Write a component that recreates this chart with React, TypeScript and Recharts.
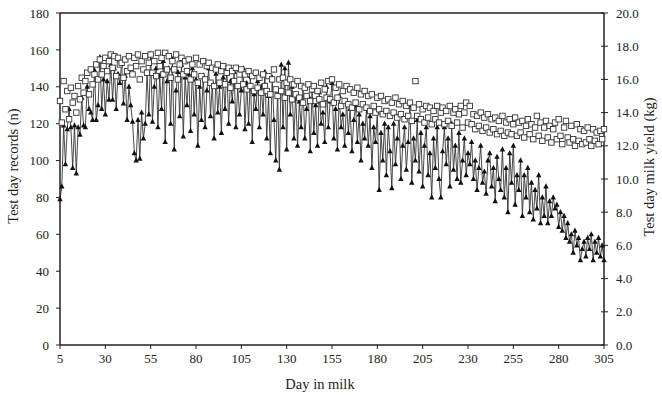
import { ComposedChart, Line, XAxis, YAxis, ReferenceLine } from 'recharts'

const FONT = '"Liberation Serif", "Times New Roman", serif'
const INK = '#222'

// day in milk, 5..305
const DAYS = Array.from({ length: 301 }, (_, i) => 5 + i)
const X_TICKS = [5, 30, 55, 80, 105, 130, 155, 180, 205, 230, 255, 280, 305]
const LEFT_TICKS = [0, 20, 40, 60, 80, 100, 120, 140, 160, 180]
const RIGHT_TICKS = [0, 2, 4, 6, 8, 10, 12, 14, 16, 18, 20]

// test day records (n), left axis
const RECORDS = [
  79, 86, 119, 98, 117, 128, 118, 96, 119, 93,
  118, 114, 134, 119, 118, 140, 128, 126, 122, 149,
  122, 130, 156, 128, 144, 125, 143, 133, 152, 133,
  150, 128, 147, 142, 153, 131, 146, 122, 140, 130,
  121, 104, 100, 122, 101, 126, 112, 120, 148, 125,
  158, 121, 140, 150, 118, 146, 128, 154, 110, 143,
  150, 120, 155, 106, 138, 148, 124, 152, 113, 145,
  130, 147, 116, 150, 125, 144, 108, 140, 122, 146,
  118, 138, 150, 124, 142, 112, 147, 126, 140, 115,
  145, 128, 150, 120, 143, 132, 148, 118, 140, 125,
  138, 150, 117, 142, 120, 146, 110, 136, 128, 143,
  118, 140, 125, 148, 112, 135, 104, 145, 122, 100,
  138, 95, 152, 118, 150, 106, 153, 125, 140, 112,
  136, 108, 132, 118, 140, 112, 128, 135, 105, 138,
  115, 130, 108, 137, 120, 126, 110, 140, 118, 132,
  142, 112, 128, 106, 135, 118, 125, 108, 132, 115,
  128, 105, 122, 130, 110, 125, 100, 120, 112, 128,
  108, 124, 96, 118, 110, 126, 84, 115, 100, 120,
  92, 118, 105, 85, 120, 98, 112, 125, 90, 108,
  118, 95, 110, 130, 88, 112, 100, 122, 94, 115,
  86, 108, 118, 92, 104, 80, 112, 96, 118, 90,
  80, 105, 118, 98, 112, 86, 120, 95, 108, 90,
  115, 88, 100, 112, 92, 104, 98, 110, 90, 100,
  84, 96, 108, 88, 94, 82, 100, 104, 86, 96,
  78, 102, 90, 84, 106, 80, 96, 72, 104, 88,
  108, 76, 92, 84, 100, 70, 92, 80, 96, 72,
  88, 68, 84, 74, 92, 66, 80, 70, 86, 66,
  78, 70, 80, 74, 76, 64, 72, 62, 70, 58,
  66, 56, 60, 50, 62, 54, 58, 46, 52, 56,
  48, 58, 52, 60, 46, 56, 50, 58, 48, 54,
  46,
]

// test day milk yield (kg), right axis
const YIELD = [
  14.7, 13.4, 15.9, 14.2, 15.3, 13.6, 15.5, 14.6, 15.0, 14.0,
  15.6, 14.8, 16.1, 15.2, 15.9, 16.4, 15.1, 16.6, 15.7, 16.3,
  16.9, 16.0, 17.2, 16.3, 16.8, 17.3, 16.5, 17.1, 17.5, 16.7,
  17.4, 16.2, 17.3, 16.9, 17.0, 16.1, 17.2, 16.5, 17.4, 16.7,
  16.3, 17.3, 16.8, 17.5, 16.0, 17.1, 16.6, 17.4, 16.4, 17.0,
  17.5, 16.4, 17.1, 16.2, 17.6, 16.8, 17.3, 16.3, 17.6, 16.6,
  17.4, 16.1, 17.1, 16.6, 17.5, 16.0, 16.9, 17.3, 16.3, 17.1,
  16.5, 17.2, 16.0, 16.9, 16.3, 17.3, 15.8, 16.9, 16.2, 17.1,
  16.0, 16.8, 17.0, 15.8, 16.7, 15.6, 16.6, 16.9, 15.8, 16.5,
  16.8, 15.7, 16.4, 16.7, 15.5, 16.5, 15.9, 16.7, 15.6, 16.3,
  16.6, 15.7, 16.3, 15.4, 16.5, 15.6, 16.2, 15.3, 16.4, 15.5,
  16.1, 15.2, 16.3, 15.6, 15.3, 16.2, 15.1, 16.0, 16.6, 15.4,
  15.0, 16.0, 15.3, 16.1, 14.9, 15.8, 15.2, 16.0, 14.8, 15.7,
  15.1, 15.9, 14.9, 15.6, 14.6, 15.5, 15.0, 15.7, 14.7, 15.4,
  15.6, 14.7, 15.3, 14.8, 15.8, 14.5, 15.4, 14.9, 15.9, 14.8,
  16.0, 14.6, 15.5, 14.9, 15.7, 14.4, 15.3, 14.7, 15.6, 14.5,
  15.4, 14.3, 15.2, 14.6, 15.5, 14.2, 15.1, 14.5, 15.3, 14.3,
  15.0, 14.1, 15.1, 14.4, 14.0, 14.9, 14.2, 15.0, 13.9, 14.7,
  14.1, 14.8, 13.8, 14.6, 14.0, 14.9, 13.7, 14.5, 13.9, 14.7,
  13.6, 14.4, 13.8, 14.6, 13.5, 14.3, 15.9, 13.8, 14.5, 13.6,
  14.2, 13.4, 14.4, 13.7, 14.3, 13.3, 14.1, 13.6, 14.4, 13.4,
  14.0, 14.3, 13.3, 14.1, 13.5, 14.4, 13.2, 14.0, 14.2, 13.4,
  13.9, 14.4, 13.1, 14.0, 14.6, 13.4, 14.4, 13.3, 13.9, 13.0,
  13.8, 13.2, 14.0, 12.9, 13.7, 13.1, 13.9, 12.8, 13.6, 13.0,
  13.7, 12.7, 13.5, 12.9, 13.8, 12.6, 13.4, 12.8, 13.6, 12.7,
  13.3, 13.7, 12.6, 13.4, 12.8, 13.5, 12.5, 13.2, 13.6, 12.7,
  13.3, 12.4, 13.1, 13.8, 12.6, 13.4, 12.3, 13.1, 13.5, 12.5,
  13.2, 12.2, 13.0, 13.4, 12.4, 13.6, 12.6, 12.1, 13.1, 13.5,
  12.5, 12.2, 13.2, 12.4, 12.0, 13.3, 12.3, 13.0, 12.1, 12.9,
  12.2, 13.1, 12.4, 12.0, 13.0, 12.3, 12.8, 12.1, 12.9, 12.4,
  13.0,
]

const rows = DAYS.map((day, i) => ({ day, records: RECORDS[i], yield: YIELD[i] }))

function Tri(p: any) {
  const { cx, cy } = p
  if (cx == null || cy == null) return null
  return <polygon points={`${cx},${cy - 3.2} ${cx - 2.7},${cy + 2} ${cx + 2.7},${cy + 2}`} fill="#111" />
}

function Sq(p: any) {
  const { cx, cy } = p
  if (cx == null || cy == null) return null
  return <rect x={cx - 2.7} y={cy - 2.7} width={5.4} height={5.4} fill="#fff" stroke="#333" strokeWidth={0.9} />
}

// right ticks cross the axis line
function RightTick(p: any) {
  const { x, y, payload } = p
  const ax = x - 4 - 8
  return (
    <g>
      <line x1={ax - 3} x2={ax} y1={y} y2={y} stroke={INK} />
      <text x={x} y={y} dy="0.35em" fontSize={13} fontFamily={FONT} fill={INK}>
        {Number(payload.value).toFixed(1)}
      </text>
    </g>
  )
}

const title = { fontSize: 14.5, fontFamily: FONT, fill: INK }

export default function App() {
  return (
    <div style={{ position: 'absolute', left: 0, top: 0, background: '#fff' }}>
      <ComposedChart width={662} height={401} data={rows} margin={{ top: 13, right: 10, left: 10, bottom: 26 }}>
        <XAxis
          dataKey="day"
          type="number"
          domain={[5, 305]}
          ticks={X_TICKS}
          tick={{ fontSize: 13, fontFamily: FONT, fill: INK }}
          tickSize={4}
          tickMargin={5}
          height={30}
          axisLine={{ stroke: INK, strokeWidth: 1.5 }}
          tickLine={{ stroke: INK }}
          label={{
            content: () => (
              <text x={320} y={389} textAnchor="middle" {...title}>
                Day in milk
              </text>
            ),
          }}
        />
        <YAxis
          yAxisId="left"
          domain={[0, 180]}
          ticks={LEFT_TICKS}
          width={50}
          tick={{ fontSize: 13, fontFamily: FONT, fill: INK }}
          tickSize={4}
          tickMargin={7}
          axisLine={{ stroke: INK, strokeWidth: 1.5 }}
          tickLine={{ stroke: INK }}
          label={{
            content: () => (
              <text x={18} y={166} textAnchor="middle" transform="rotate(-90 18 166)" {...title}>
                Test day records (n)
              </text>
            ),
          }}
        />
        <YAxis
          yAxisId="right"
          orientation="right"
          domain={[0, 20]}
          ticks={RIGHT_TICKS}
          width={48}
          tick={<RightTick />}
          tickSize={4}
          tickMargin={8}
          axisLine={{ stroke: INK, strokeWidth: 1.5 }}
          tickLine={{ stroke: INK }}
          label={{
            content: () => (
              <text x={654} y={167} textAnchor="middle" transform="rotate(-90 654 167)" {...title}>
                Test day milk yield (kg)
              </text>
            ),
          }}
        />
        <ReferenceLine yAxisId="left" y={180} stroke={INK} strokeWidth={1.5} />
        <Line
          yAxisId="left"
          dataKey="records"
          stroke="#333"
          strokeWidth={0.9}
          dot={(p: any) => <Tri key={`t-${p.index}`} {...p} />}
          activeDot={false}
          isAnimationActive={false}
        />
        <Line
          yAxisId="right"
          dataKey="yield"
          stroke="none"
          dot={(p: any) => <Sq key={`s-${p.index}`} {...p} />}
          activeDot={false}
          isAnimationActive={false}
        />
      </ComposedChart>
    </div>
  )
}
